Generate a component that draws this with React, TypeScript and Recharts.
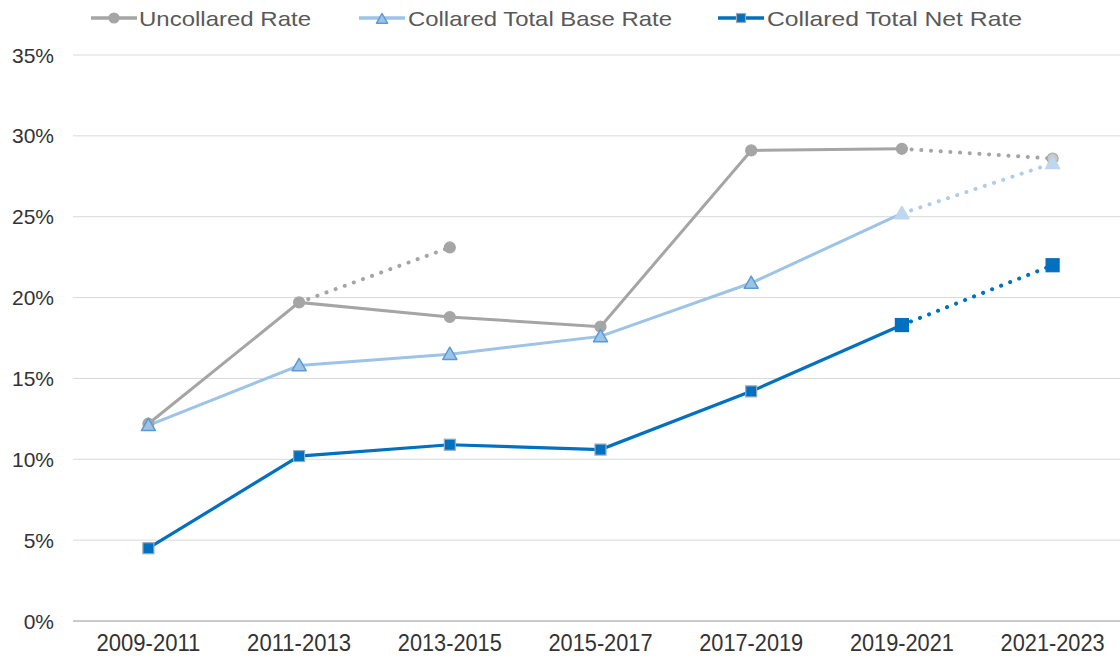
import React from 'react';
import { LineChart, Line, XAxis, YAxis, CartesianGrid, Legend } from 'recharts';

const categories = ['2009-2011', '2011-2013', '2013-2015', '2015-2017', '2017-2019', '2019-2021', '2021-2023'];
const uncollaredRate = [12.2, 19.7, 18.8, 18.2, 29.1, 29.2, null];
const uncollaredProjA = [null, 19.7, 23.1, null, null, null, null];
const uncollaredProjB = [null, null, null, null, null, 29.2, 28.6];
const baseRate = [12.1, 15.8, 16.5, 17.6, 20.9, 25.2, null];
const baseProj = [null, null, null, null, null, 25.2, 28.3];
const netRate = [4.5, 10.2, 10.9, 10.6, 14.2, 18.3, null];
const netProj = [null, null, null, null, null, 18.3, 22.0];
const yTicks = [0, 5, 10, 15, 20, 25, 30, 35];

const legendItems = [
  { label: 'Uncollared Rate', kind: 'circle', color: '#A5A5A5', x: 91, textX: 139, textW: 172 },
  { label: 'Collared Total Base Rate', kind: 'triangle', color: '#9DC3E6', x: 359, textX: 408, textW: 264 },
  { label: 'Collared Total Net Rate', kind: 'square', color: '#0070C0', x: 718, textX: 767, textW: 255 },
];

const data = categories.map((c, i) => ({
  cat: c,
  uncollared: uncollaredRate[i],
  uncollaredProjA: uncollaredProjA[i],
  uncollaredProjB: uncollaredProjB[i],
  base: baseRate[i],
  baseProj: baseProj[i],
  net: netRate[i],
  netProj: netProj[i],
}));

const GRAY = '#A5A5A5';
const LIGHT = '#9DC3E6';
const DARK = '#0070C0';

const Circle = (cx: number, cy: number, fill: string, stroke: string, r = 5.5) => (
  <circle cx={cx} cy={cy} r={r} fill={fill} stroke={stroke} strokeWidth={1.2} />
);
const Tri = (cx: number, cy: number, fill: string, stroke: string, s = 7) => (
  <polygon
    points={`${cx},${cy - s} ${cx - s},${cy + s * 0.75} ${cx + s},${cy + s * 0.75}`}
    fill={fill}
    stroke={stroke}
    strokeWidth={1.5}
    strokeLinejoin="round"
  />
);
const Sq = (cx: number, cy: number, fill: string, stroke: string, s = 5.5) => (
  <rect x={cx - s} y={cy - s} width={s * 2} height={s * 2} fill={fill} stroke={stroke} strokeWidth={1.2} />
);

const valid = (p: any) => p && p.cx != null && p.cy != null && p.value != null && !Number.isNaN(p.cx);

const grayDot = (p: any) => {
  if (!valid(p)) return <g key={`g${p.index}`} />;
  return <g key={`g${p.index}`}>{Circle(p.cx, p.cy, GRAY, GRAY)}</g>;
};
const grayProjDot = (endIdx: number) => (p: any) => {
  if (!valid(p) || p.index !== endIdx) return <g key={`gp${endIdx}-${p.index}`} />;
  const fill = endIdx === 6 ? '#C9C9C9' : GRAY;
  return <g key={`gp${endIdx}-${p.index}`}>{Circle(p.cx, p.cy, fill, GRAY)}</g>;
};
const baseDot = (p: any) => {
  if (!valid(p)) return <g key={`b${p.index}`} />;
  if (p.index === 5) return <g key={`b${p.index}`}>{Tri(p.cx, p.cy, '#BDD7EE', '#BDD7EE')}</g>;
  return <g key={`b${p.index}`}>{Tri(p.cx, p.cy, LIGHT, '#5B9BD5')}</g>;
};
const baseProjDot = (p: any) => {
  if (!valid(p) || p.index !== 6) return <g key={`bp${p.index}`} />;
  return <g key={`bp${p.index}`}>{Tri(p.cx, p.cy, '#BDD7EE', '#BDD7EE')}</g>;
};
const netDot = (p: any) => {
  if (!valid(p)) return <g key={`n${p.index}`} />;
  if (p.index === 5) return <g key={`n${p.index}`}>{Sq(p.cx, p.cy, DARK, DARK, 6.5)}</g>;
  return <g key={`n${p.index}`}>{Sq(p.cx, p.cy, DARK, '#9AA8B8')}</g>;
};
const netProjDot = (p: any) => {
  if (!valid(p) || p.index !== 6) return <g key={`np${p.index}`} />;
  return <g key={`np${p.index}`}>{Sq(p.cx, p.cy, DARK, DARK, 6.5)}</g>;
};

const XTick = (props: any) => {
  const { x, payload } = props;
  return (
    <text
      x={x}
      y={651}
      textAnchor="middle"
      fontFamily="'Liberation Sans', Arial, sans-serif"
      fontSize={24}
      fill="#333333"
      textLength={104}
      lengthAdjust="spacingAndGlyphs"
    >
      {payload.value}
    </text>
  );
};

const YTick = (props: any) => {
  const { y, payload } = props;
  return (
    <text
      x={54}
      y={y + 7.5}
      textAnchor="end"
      fontFamily="'Liberation Sans', Arial, sans-serif"
      fontSize={21}
      fill="#333333"
    >
      {`${payload.value}%`}
    </text>
  );
};

const LegendContent = () => (
  <svg width={1120} height={40} style={{ display: 'block' }}>
    {legendItems.map((it) => {
      const cy = 18;
      const mx = it.x + 23;
      let marker: React.ReactNode = null;
      if (it.kind === 'circle') marker = Circle(mx, cy, GRAY, GRAY, 5);
      if (it.kind === 'triangle') marker = Tri(mx, cy + 1, LIGHT, '#5B9BD5', 5.5);
      if (it.kind === 'square') marker = Sq(mx, cy, DARK, '#9AA8B8', 4.5);
      return (
        <g key={it.label}>
          <line x1={it.x} y1={cy} x2={it.x + 46} y2={cy} stroke={it.color} strokeWidth={3.5} />
          {marker}
          <text
            x={it.textX}
            y={cy + 8}
            fontFamily="'Liberation Sans', Arial, sans-serif"
            fontSize={21}
            fill="#595959"
            textLength={it.textW}
            lengthAdjust="spacingAndGlyphs"
          >
            {it.label}
          </text>
        </g>
      );
    })}
  </svg>
);

export default function App() {
  return (
    <div
      style={{
        position: 'absolute',
        left: 0,
        top: 0,
        width: 1120,
        height: 660,
        overflow: 'hidden',
        background: '#ffffff',
      }}
    >
      <LineChart width={1140} height={660} data={data} margin={{ top: 55, right: 12, left: 13, bottom: 0 }}>
        <CartesianGrid horizontal vertical={false} stroke="#D9D9D9" strokeWidth={1} />
        <XAxis
          dataKey="cat"
          height={39}
          tick={<XTick />}
          tickLine={false}
          axisLine={{ stroke: '#BFBFBF', strokeWidth: 1.5 }}
          interval={0}
          padding={{ left: 75.4, right: 75.4 }}
        />
        <YAxis
          width={60}
          domain={[0, 35]}
          ticks={yTicks}
          tick={<YTick />}
          tickLine={false}
          axisLine={false}
          allowDataOverflow
        />
        <Legend
          layout="vertical"
          align="center"
          verticalAlign="middle"
          content={<LegendContent />}
          wrapperStyle={{ position: 'absolute', left: 0, top: 0, width: 1120, height: 40 }}
        />
        <Line
          dataKey="uncollaredProjA"
          stroke={GRAY}
          strokeWidth={4}
          strokeDasharray="0.1 9.6"
          strokeLinecap="round"
          dot={grayProjDot(2)}
          activeDot={false}
          connectNulls={false}
          isAnimationActive={false}
          legendType="none"
        />
        <Line
          dataKey="uncollaredProjB"
          stroke={GRAY}
          strokeWidth={4}
          strokeDasharray="0.1 9.6"
          strokeLinecap="round"
          dot={grayProjDot(6)}
          activeDot={false}
          isAnimationActive={false}
          legendType="none"
        />
        <Line
          dataKey="uncollared"
          stroke={GRAY}
          strokeWidth={3}
          dot={grayDot}
          activeDot={false}
          isAnimationActive={false}
        />
        <Line
          dataKey="baseProj"
          stroke="#AFCDEA"
          strokeWidth={4}
          strokeDasharray="0.1 9.6"
          strokeLinecap="round"
          dot={baseProjDot}
          activeDot={false}
          isAnimationActive={false}
          legendType="none"
        />
        <Line
          dataKey="base"
          stroke={LIGHT}
          strokeWidth={3}
          dot={baseDot}
          activeDot={false}
          isAnimationActive={false}
        />
        <Line
          dataKey="netProj"
          stroke={DARK}
          strokeWidth={4}
          strokeDasharray="0.1 9.6"
          strokeLinecap="round"
          dot={netProjDot}
          activeDot={false}
          isAnimationActive={false}
          legendType="none"
        />
        <Line
          dataKey="net"
          stroke={DARK}
          strokeWidth={3.2}
          dot={netDot}
          activeDot={false}
          isAnimationActive={false}
        />
      </LineChart>
    </div>
  );
}
